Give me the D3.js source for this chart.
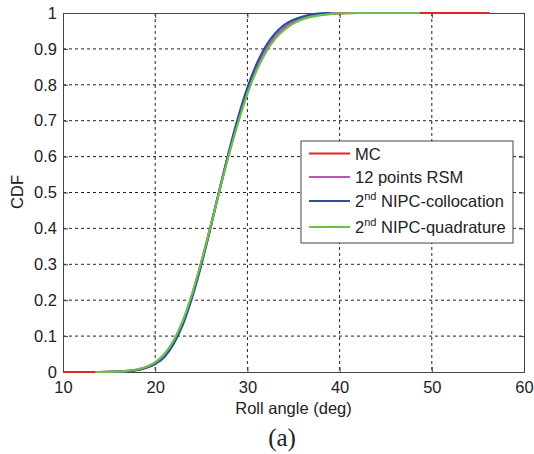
<!doctype html>
<html lang="en">
<head>
<meta charset="UTF-8">
<script src="https://cdnjs.cloudflare.com/ajax/libs/d3/7.8.5/d3.min.js"></script>
<title>CDF roll angle</title>
<style>
  body { margin: 0; background: #fff; }
  text { font-family: "Liberation Sans", Arial, sans-serif; fill: #222; }
</style>
</head>
<body>
<div id="chart"></div>
<script>
    // tick labels
    const xTicks = [10, 20, 30, 40, 50, 60];
    const yTicks = [0, 0.1, 0.2, 0.3, 0.4, 0.5, 0.6, 0.7, 0.8, 0.9, 1];

    // MC (red)
    const mcX = [10, 14, 16, 17, 18, 19, 20, 21, 22, 23, 24, 25, 26, 27, 28, 29, 30, 31, 32, 33, 34, 35, 36, 37, 38, 39, 40, 42, 45, 50, 56.3];
    const mcY = [0, 0, 0.001, 0.003, 0.006, 0.013, 0.026, 0.048, 0.085, 0.14, 0.215, 0.305, 0.405, 0.51, 0.61, 0.70, 0.78, 0.845, 0.895, 0.932, 0.958, 0.975, 0.986, 0.992, 0.996, 0.998, 0.999, 1, 1, 1, 1];

    // 12 points RSM (magenta)
    const rsmX = [14, 16, 17, 18, 19, 20, 21, 22, 23, 24, 25, 26, 27, 28, 29, 30, 31, 32, 33, 34, 35, 36, 37, 38, 39, 40, 42, 45];
    const rsmY = [0, 0.001, 0.003, 0.006, 0.013, 0.025, 0.046, 0.083, 0.138, 0.212, 0.302, 0.403, 0.508, 0.61, 0.702, 0.783, 0.848, 0.898, 0.935, 0.96, 0.977, 0.987, 0.993, 0.997, 0.999, 1, 1, 1];

    // 2nd NIPC-collocation (blue)
    const colX = [14, 16, 17, 18, 19, 20, 21, 22, 23, 24, 25, 26, 27, 28, 29, 30, 31, 32, 33, 34, 35, 36, 37, 38, 38.5, 39];
    const colY = [0, 0.001, 0.002, 0.005, 0.011, 0.022, 0.042, 0.078, 0.132, 0.207, 0.298, 0.402, 0.51, 0.615, 0.71, 0.792, 0.858, 0.908, 0.943, 0.967, 0.981, 0.99, 0.996, 0.999, 1, 1];

    // 2nd NIPC-quadrature (green)
    const quadX = [13.5, 16, 17, 18, 19, 20, 21, 22, 23, 24, 25, 26, 27, 28, 29, 30, 31, 32, 33, 34, 35, 36, 37, 38, 39, 40, 42, 48.7];
    const quadY = [0, 0.001, 0.003, 0.007, 0.014, 0.027, 0.05, 0.088, 0.143, 0.218, 0.307, 0.405, 0.507, 0.605, 0.695, 0.775, 0.84, 0.89, 0.928, 0.953, 0.971, 0.983, 0.99, 0.994, 0.997, 0.999, 1, 1];

    const series = [
        {name: "MC", xs: mcX, ys: mcY, color: "#e3242b"},
        {name: "12 points RSM", xs: rsmX, ys: rsmY, color: "#c052b4"},
        {name: "NIPC-collocation", sup: true, xs: colX, ys: colY, color: "#2f4f9e"},
        {name: "NIPC-quadrature", sup: true, xs: quadX, ys: quadY, color: "#6cc04a"}
    ];

    const W = 534, H = 454;
    const margin = {top: 13, right: 10, bottom: 82, left: 63},
        width = W - margin.left - margin.right,
        height = H - margin.top - margin.bottom;
    const font = '"Liberation Sans", Arial, sans-serif';

    const svg = d3.select("#chart").append("svg")
        .attr("width", W).attr("height", H);
    const g = svg.append("g")
        .attr("transform", `translate(${margin.left},${margin.top})`);

    const x = d3.scaleLinear().domain([10, 60]).range([0, width]);
    const y = d3.scaleLinear().domain([0, 1]).range([height, 0]);

    // dashed grid
    g.append("g").selectAll("line").data(xTicks.slice(1, -1)).join("line")
        .attr("x1", d => x(d)).attr("x2", d => x(d))
        .attr("y1", 0).attr("y2", height)
        .attr("stroke", "#222").attr("stroke-dasharray", "3,3");
    g.append("g").selectAll("line").data(yTicks.slice(1, -1)).join("line")
        .attr("y1", d => y(d)).attr("y2", d => y(d))
        .attr("x1", 0).attr("x2", width)
        .attr("stroke", "#222").attr("stroke-dasharray", "3,3");

    // axes (MATLAB style box with inward ticks)
    const xAxis = g.append("g").attr("transform", `translate(0,${height})`)
        .call(d3.axisBottom(x).tickValues(xTicks).tickSize(-5).tickPadding(9).tickFormat(d3.format("d")));
    g.append("g")
        .call(d3.axisLeft(y).tickValues(yTicks).tickSize(-5).tickPadding(6).tickFormat(d => d === 0 || d === 1 ? d : d3.format(".1f")(d)));
    g.append("g")
        .call(d3.axisTop(x).tickValues(xTicks).tickSize(-5).tickFormat(""));
    g.append("g").attr("transform", `translate(${width},0)`)
        .call(d3.axisRight(y).tickValues(yTicks).tickSize(-5).tickFormat(""));
    g.selectAll(".domain").attr("stroke", "#444");
    g.selectAll(".tick line").attr("stroke", "#444");
    g.selectAll(".tick text").style("font-size", "16.5px").attr("fill", "#222")
        .style("font-family", font);
    xAxis.selectAll(".tick text").attr("dy", "0.71em");

    // curves drawn over the axes
    const line = d3.line().curve(d3.curveMonotoneX);
    series.forEach(s => {
        const pts = s.xs.map((v, i) => [x(v), y(s.ys[i])]);
        g.append("path").attr("d", line(pts))
            .attr("fill", "none").attr("stroke", s.color).attr("stroke-width", 2.2);
    });

    // axis labels
    svg.append("text").attr("x", margin.left + width / 2).attr("y", 414)
        .attr("text-anchor", "middle").style("font-size", "16.5px").text("Roll angle (deg)");
    svg.append("text").attr("transform", "translate(23,192) rotate(-90)")
        .attr("text-anchor", "middle").style("font-size", "16.5px").text("CDF");
    svg.append("text").attr("x", 282).attr("y", 446)
        .attr("text-anchor", "middle")
        .style("font-family", '"Liberation Serif", "Times New Roman", serif')
        .style("font-size", "25px").text("(a)");

    // legend
    const lg = svg.append("g").attr("transform", "translate(301,141)");
    lg.append("rect").attr("width", 212).attr("height", 102)
        .attr("fill", "#fff").attr("stroke", "#444");
    const rowY = [12.5, 36, 60, 86];
    series.forEach((s, i) => {
        lg.append("line").attr("x1", 8).attr("x2", 49)
            .attr("y1", rowY[i]).attr("y2", rowY[i])
            .attr("stroke", s.color).attr("stroke-width", 2.2);
        const t = lg.append("text").attr("x", 54).attr("y", rowY[i] + 6)
            .style("font-size", "16.5px");
        if (s.sup) {
            t.append("tspan").text("2");
            t.append("tspan").attr("dy", -7).style("font-size", "11px").text("nd");
            t.append("tspan").attr("dy", 7).text(" " + s.name);
        } else {
            t.text(s.name);
        }
    });
</script>
</body>
</html>
